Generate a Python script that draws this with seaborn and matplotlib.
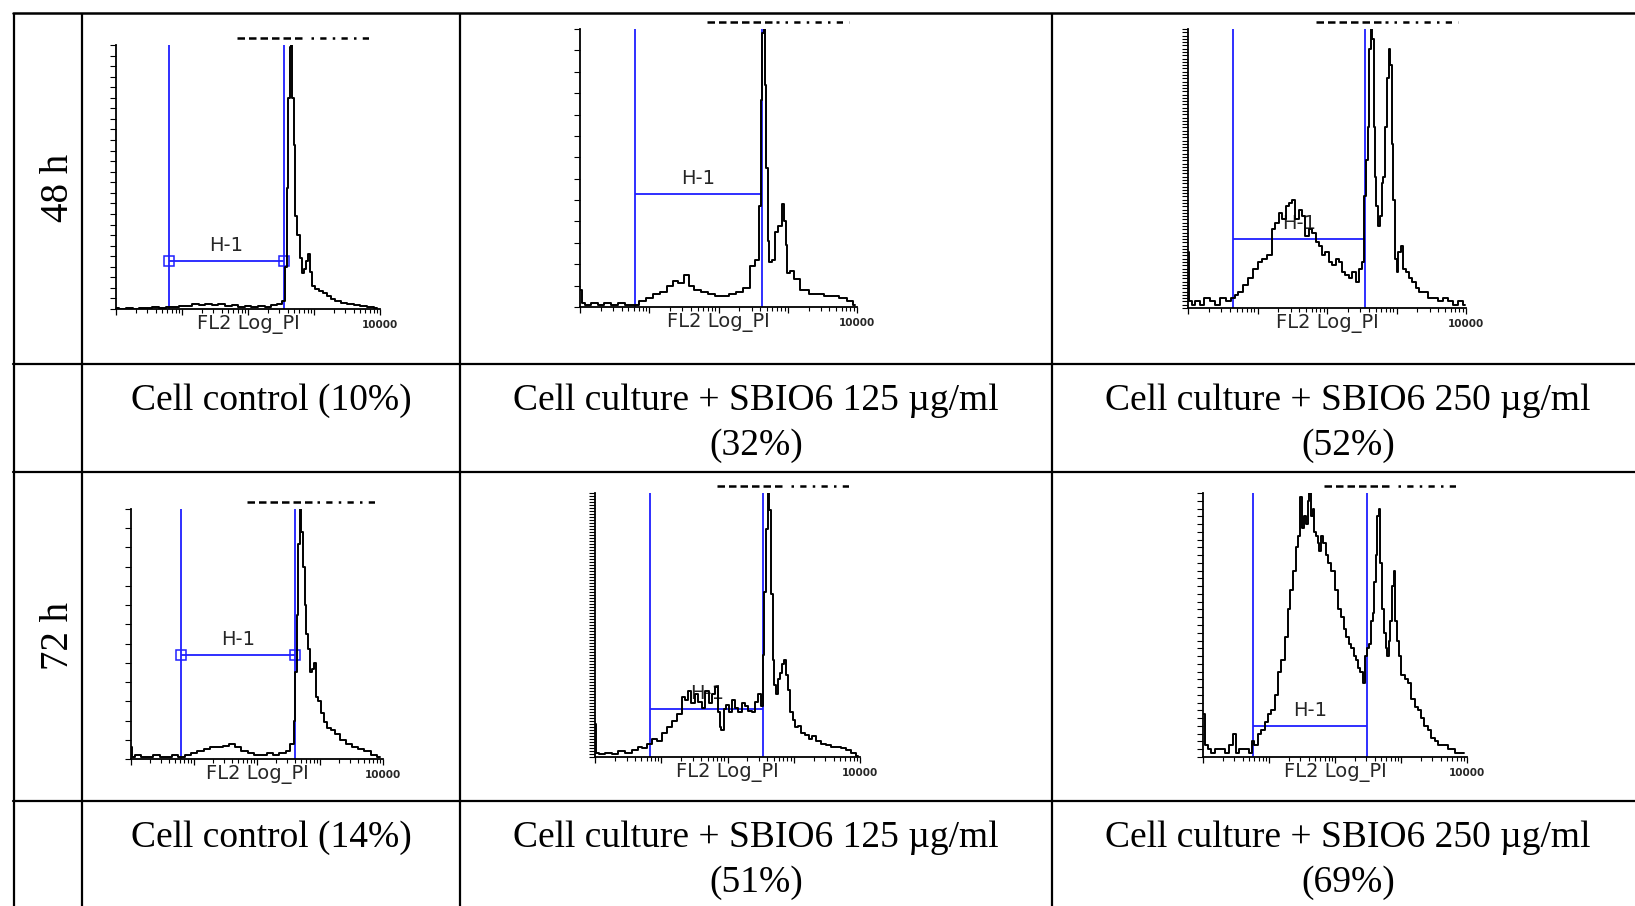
"""
Flow cytometry (PI, FL2 log) histogram table: 48 h / 72 h, control vs SBIO6.
"""
import numpy as np
import pandas as pd
import matplotlib.pyplot as plt
from matplotlib.ticker import LogLocator, MultipleLocator, NullFormatter
from matplotlib.transforms import offset_copy
import seaborn as sns

sns.set_style("white")
plt.rcParams["font.family"] = ["DejaVu Sans"]

W, H = 1635, 906
BLUE = "#1f1fff"

# ── Data: FL2 Log_PI position (decades, 0 = 1 ... 4 = 10000) and event counts ──
P1_DEC = [0.00, 0.10, 0.20, 0.30, 0.40, 0.50, 0.60, 0.70, 0.80, 0.90, 1.00, 1.10, 1.20, 1.30,
          1.40, 1.50, 1.60, 1.70, 1.80, 1.90, 2.00, 2.10, 2.20, 2.30, 2.40, 2.48, 2.54, 2.57,
          2.60, 2.62, 2.64, 2.66, 2.68, 2.70, 2.73, 2.76, 2.80, 2.84, 2.87, 2.90, 2.93, 2.96,
          2.99, 3.04, 3.10, 3.16, 3.22, 3.28, 3.35, 3.45, 3.55, 3.65, 3.75, 3.85, 3.95]
P1_CNT = [1, 0, 1, 0, 1, 1, 2, 1, 2, 2, 3, 3, 5, 4, 5, 4, 5, 3, 4, 2, 3, 2, 3, 2, 4, 5, 8, 40,
          115, 200, 248, 250, 200, 155, 88, 70, 48, 34, 38, 45, 52, 35, 22, 19, 17, 15, 12, 9,
          8, 6, 5, 4, 3, 2, 1]

P2_DEC = [0.00, 0.05, 0.10, 0.20, 0.30, 0.40, 0.50, 0.60, 0.70, 0.80, 0.90, 1.00, 1.10, 1.20,
          1.30, 1.37, 1.45, 1.54, 1.60, 1.70, 1.80, 1.90, 2.00, 2.10, 2.20, 2.30, 2.40, 2.50,
          2.56, 2.60, 2.62, 2.64, 2.66, 2.68, 2.70, 2.72, 2.75, 2.79, 2.84, 2.89, 2.93, 2.96,
          2.98, 3.01, 3.06, 3.13, 3.23, 3.37, 3.47, 3.57, 3.66, 3.80, 3.90, 3.97]
P2_CNT = [8, 2, 1, 2, 1, 2, 1, 2, 1, 1, 3, 4, 6, 7, 10, 12, 11, 15, 10, 8, 7, 6, 5, 5, 6, 7, 9,
          19, 22, 47, 97, 128, 130, 104, 65, 31, 21, 22, 35, 38, 48, 40, 29, 16, 17, 13, 8, 6,
          6, 5, 5, 4, 3, 1]

P3_DEC = [0.00, 0.03, 0.08, 0.13, 0.20, 0.27, 0.35, 0.42, 0.51, 0.58, 0.65, 0.70, 0.75, 0.82,
          0.90, 0.97, 1.04, 1.10, 1.18, 1.23, 1.28, 1.33, 1.38, 1.43, 1.47, 1.52, 1.57, 1.62,
          1.66, 1.71, 1.76, 1.81, 1.86, 1.90, 1.95, 2.00, 2.05, 2.10, 2.15, 2.19, 2.24, 2.29,
          2.34, 2.39, 2.43, 2.48, 2.52, 2.55, 2.58, 2.60, 2.62, 2.64, 2.66, 2.68, 2.70, 2.72,
          2.75, 2.77, 2.80, 2.82, 2.85, 2.88, 2.90, 2.92, 2.94, 2.96, 2.99, 3.01, 3.04, 3.08,
          3.12, 3.15, 3.20, 3.25, 3.30, 3.34, 3.40, 3.49, 3.56, 3.63, 3.70, 3.77, 3.85, 3.92, 3.98]
P3_CNT = [17, 2, 1, 2, 1, 3, 2, 1, 3, 2, 3, 4, 5, 7, 9, 12, 14, 15, 16, 24, 26, 29, 27, 31, 32,
          33, 27, 30, 28, 22, 24, 23, 20, 19, 16, 17, 14, 13, 15, 14, 11, 10, 9, 11, 8, 12, 14,
          34, 45, 55, 79, 85, 82, 55, 40, 31, 25, 28, 38, 40, 55, 70, 79, 74, 50, 33, 15, 11,
          17, 19, 12, 11, 9, 8, 6, 5, 5, 3, 3, 2, 3, 2, 1, 2, 1]

P4_DEC = [0.00, 0.04, 0.10, 0.20, 0.30, 0.40, 0.50, 0.60, 0.70, 0.80, 0.90, 1.00, 1.10, 1.20,
          1.30, 1.40, 1.50, 1.60, 1.70, 1.80, 1.90, 2.00, 2.10, 2.20, 2.30, 2.40, 2.50, 2.56,
          2.60, 2.62, 2.64, 2.66, 2.69, 2.71, 2.74, 2.77, 2.80, 2.83, 2.86, 2.89, 2.92, 2.95,
          2.99, 3.04, 3.09, 3.14, 3.20, 3.28, 3.36, 3.45, 3.55, 3.65, 3.75, 3.85, 3.95]
P4_CNT = [6, 1, 2, 1, 1, 2, 1, 1, 2, 1, 2, 3, 4, 5, 6, 6, 7, 8, 6, 4, 3, 2, 2, 3, 2, 3, 4, 8,
          20, 45, 75, 112, 130, 118, 100, 80, 65, 57, 45, 47, 50, 32, 30, 24, 19, 16, 15, 13,
          10, 8, 6, 5, 4, 2, 1]

P5_DEC = [0.00, 0.03, 0.10, 0.20, 0.30, 0.40, 0.50, 0.60, 0.68, 0.75, 0.83, 0.90, 0.98, 1.05,
          1.13, 1.20, 1.28, 1.33, 1.38, 1.43, 1.48, 1.53, 1.58, 1.64, 1.69, 1.74, 1.79, 1.84,
          1.87, 1.89, 1.92, 1.96, 1.99, 2.04, 2.09, 2.14, 2.19, 2.24, 2.29, 2.34, 2.39, 2.44,
          2.49, 2.52, 2.54, 2.57, 2.59, 2.62, 2.64, 2.67, 2.69, 2.72, 2.74, 2.77, 2.80, 2.84,
          2.87, 2.90, 2.93, 2.97, 3.00, 3.04, 3.09, 3.14, 3.20, 3.25, 3.30, 3.38, 3.45, 3.52,
          3.60, 3.68, 3.75, 3.82, 3.90, 3.97]
P5_CNT = [22, 3, 2, 3, 2, 4, 3, 5, 7, 6, 9, 12, 11, 16, 20, 24, 29, 40, 38, 44, 36, 42, 37, 33,
          44, 36, 42, 47, 30, 20, 18, 32, 35, 30, 38, 33, 30, 36, 34, 31, 30, 37, 42, 34, 68,
          110, 152, 176, 165, 109, 65, 48, 42, 52, 56, 62, 65, 55, 45, 30, 25, 20, 21, 16, 15,
          12, 14, 11, 9, 8, 7, 7, 6, 5, 3, 1]

P6_DEC = [0.00, 0.05, 0.10, 0.15, 0.22, 0.30, 0.36, 0.42, 0.48, 0.51, 0.58, 0.66, 0.72, 0.75,
          0.80, 0.86, 0.91, 0.96, 1.01, 1.06, 1.11, 1.16, 1.21, 1.26, 1.30, 1.34, 1.39, 1.43,
          1.46, 1.49, 1.52, 1.55, 1.57, 1.60, 1.62, 1.65, 1.67, 1.70, 1.72, 1.75, 1.77, 1.80,
          1.84, 1.88, 1.92, 1.97, 2.02, 2.07, 2.11, 2.15, 2.19, 2.22, 2.26, 2.30, 2.34, 2.37,
          2.40, 2.44, 2.47, 2.50, 2.53, 2.56, 2.58, 2.61, 2.63, 2.65, 2.67, 2.70, 2.73, 2.75,
          2.78, 2.80, 2.83, 2.85, 2.88, 2.90, 2.93, 2.96, 2.98, 3.03, 3.08, 3.13, 3.18, 3.23,
          3.28, 3.33, 3.38, 3.43, 3.48, 3.54, 3.59, 3.64, 3.69, 3.74, 3.79, 3.84, 3.89, 3.95]
P6_CNT = [11, 3, 2, 1, 2, 2, 1, 3, 6, 1, 2, 2, 1, 4, 3, 6, 7, 9, 11, 12, 16, 22, 25, 31, 38,
          43, 48, 54, 57, 67, 59, 62, 60, 66, 68, 62, 64, 58, 57, 55, 53, 57, 55, 52, 50, 48,
          43, 38, 36, 33, 31, 29, 28, 26, 25, 23, 22, 19, 26, 28, 29, 35, 37, 45, 52, 62, 64,
          50, 38, 32, 28, 26, 30, 35, 44, 48, 35, 30, 26, 21, 20, 19, 15, 13, 12, 10, 8, 7, 5,
          4, 3, 3, 3, 2, 2, 1, 1, 1]

# H-1 marker gates (decades) and the level of the horizontal bar (counts)
GATE_LO = [0.80, 0.79, 0.65, 0.79, 0.83, 0.76]
GATE_HI = [2.55, 2.63, 2.55, 2.60, 2.54, 2.48]
GATE_LEVEL = [45, 53, 21, 54, 32, 8]
GATE_BOXES = [True, False, False, True, False, False]
Y_MAX = [250, 130, 85, 130, 176, 68]
Y_STEP = [10, 10, 1, 10, 2, 2]

ROW_LABELS = ["48 h", "72 h"]
CAPTIONS = [
    ["Cell control (10%)", "Cell culture + SBIO6 125 µg/ml\n(32%)",
     "Cell culture + SBIO6 250 µg/ml\n(52%)"],
    ["Cell control (14%)", "Cell culture + SBIO6 125 µg/ml\n(51%)",
     "Cell culture + SBIO6 250 µg/ml\n(69%)"],
]

CURVES = [(P1_DEC, P1_CNT), (P2_DEC, P2_CNT), (P3_DEC, P3_CNT),
          (P4_DEC, P4_CNT), (P5_DEC, P5_CNT), (P6_DEC, P6_CNT)]

# ── Layout (pixels) ──────────────────────────────────────────────────────────
COL_X = [13.6, 82, 460, 1052, 1644]
ROW_Y = [12.5, 364, 472, 801, 960]
# x_left, x_right, y_top, y_baseline of each histogram
PANELS = [(116, 380, 45, 309), (580, 857, 29, 307), (1188, 1466, 29, 308),
          (131, 383, 509, 759), (595, 860, 493, 757), (1203, 1467, 493, 757)]

fig = plt.figure(figsize=(W / 100, H / 100), dpi=100)

# ── Table grid ───────────────────────────────────────────────────────────────
tab = fig.add_axes([0, 0, 1, 1])
tab.set_xlim(0, W)
tab.set_ylim(H, 0)
tab.axis("off")
for x in COL_X[:-1]:
    tab.plot([x, x], [ROW_Y[0], H + 5], color="black", lw=1.6, solid_capstyle="butt")
for y in ROW_Y[:-1]:
    tab.plot([COL_X[0] - 1, W + 5], [y, y], color="black", lw=1.8 if y == ROW_Y[0] else 1.6)

serif = ["Liberation Serif", "DejaVu Serif"]
for r, label in enumerate(ROW_LABELS):
    yc = (ROW_Y[2 * r] + ROW_Y[2 * r + 1]) / 2
    tab.text(59, yc, label, rotation=90, ha="center", va="center",
             fontsize=28, family=serif, color="black")
    for c, cap in enumerate(CAPTIONS[r]):
        xc = (COL_X[c + 1] + COL_X[c + 2]) / 2
        for k, line in enumerate(cap.split("\n")):
            tab.text(xc, ROW_Y[2 * r + 1] + 46 + 45 * k, line, ha="center",
                     va="baseline", fontsize=27, family=serif, color="black")


# ── Histograms ───────────────────────────────────────────────────────────────
def draw_hist(i):
    x0, x1, yt, yb = PANELS[i]
    ax = fig.add_axes([x0 / W, 1 - yb / H, (x1 - x0) / W, (yb - yt) / H])
    dec, cnt = CURVES[i]
    df = pd.DataFrame({"fl2": np.power(10.0, dec), "count": cnt})
    sns.lineplot(data=df, x="fl2", y="count", ax=ax, color="black", linewidth=1.4,
                 drawstyle="steps-mid", estimator=None, sort=False, legend=False, zorder=3)

    ax.set_xscale("log")
    ax.set_xlim(1, 1e4)
    ax.set_ylim(0, Y_MAX[i])
    sns.despine(ax=ax)
    for s in ("left", "bottom"):
        ax.spines[s].set_linewidth(1.3)
        ax.spines[s].set_color("black")

    ax.set_xticks([1, 10, 100, 1000, 10000], ["", "", "", "", "10000"])
    ax.xaxis.set_minor_locator(LogLocator(base=10, subs=np.arange(2, 10), numticks=20))
    ax.xaxis.set_minor_formatter(NullFormatter())
    ax.tick_params(axis="x", which="major", bottom=True, direction="out", length=4.5,
                   width=0.9, color="black", pad=3.5, labelsize=7.5)
    ax.tick_params(axis="x", which="minor", bottom=True, direction="out", length=3,
                   width=0.8, color="black")
    for t in ax.get_xticklabels():
        t.set_fontweight("bold")
    ax.yaxis.set_major_locator(MultipleLocator(Y_STEP[i]))
    ax.tick_params(axis="y", which="major", left=True, direction="out", length=4,
                   width=0.8, color="black", labelleft=False)
    ax.set_xlabel("")
    ax.set_ylabel("")
    ax.annotate("FL2 Log_PI", xy=(0.5, 0), xycoords="axes fraction", xytext=(0, -15.5),
                textcoords="offset pixels", ha="center", va="center", fontsize=14)

    # H-1 marker
    lo, hi, lev = 10 ** GATE_LO[i], 10 ** GATE_HI[i], GATE_LEVEL[i]
    ax.vlines([lo, hi], 0, Y_MAX[i], color=BLUE, lw=1.3, zorder=2.5)
    ax.hlines(lev, lo, hi, color=BLUE, lw=1.3, zorder=2.5)
    if GATE_BOXES[i]:
        ax.plot([lo, hi], [lev, lev], ls="none", marker="s", ms=6.5, mfc="none",
                mec=BLUE, mew=1.1, zorder=2.6)
    ax.annotate("H-1", xy=(np.sqrt(lo * hi), lev), xytext=(0, 10),
                textcoords="offset pixels", ha="center", va="baseline",
                fontsize=14, zorder=1)

    # header residue above each plot
    tr = offset_copy(ax.transAxes, fig=fig, x=0, y=7, units="dots")
    ax.plot([0.46, 0.72], [1, 1], transform=tr, clip_on=False, color="black",
            lw=1.8, ls=(0, (3, 1.6)))
    ax.plot([0.74, 0.97], [1, 1], transform=tr, clip_on=False, color="black",
            lw=1.8, ls=(0, (1, 2.5, 2.5, 2.5)))


for i in range(len(PANELS)):
    draw_hist(i)

fig.savefig("out.png", dpi=100)
